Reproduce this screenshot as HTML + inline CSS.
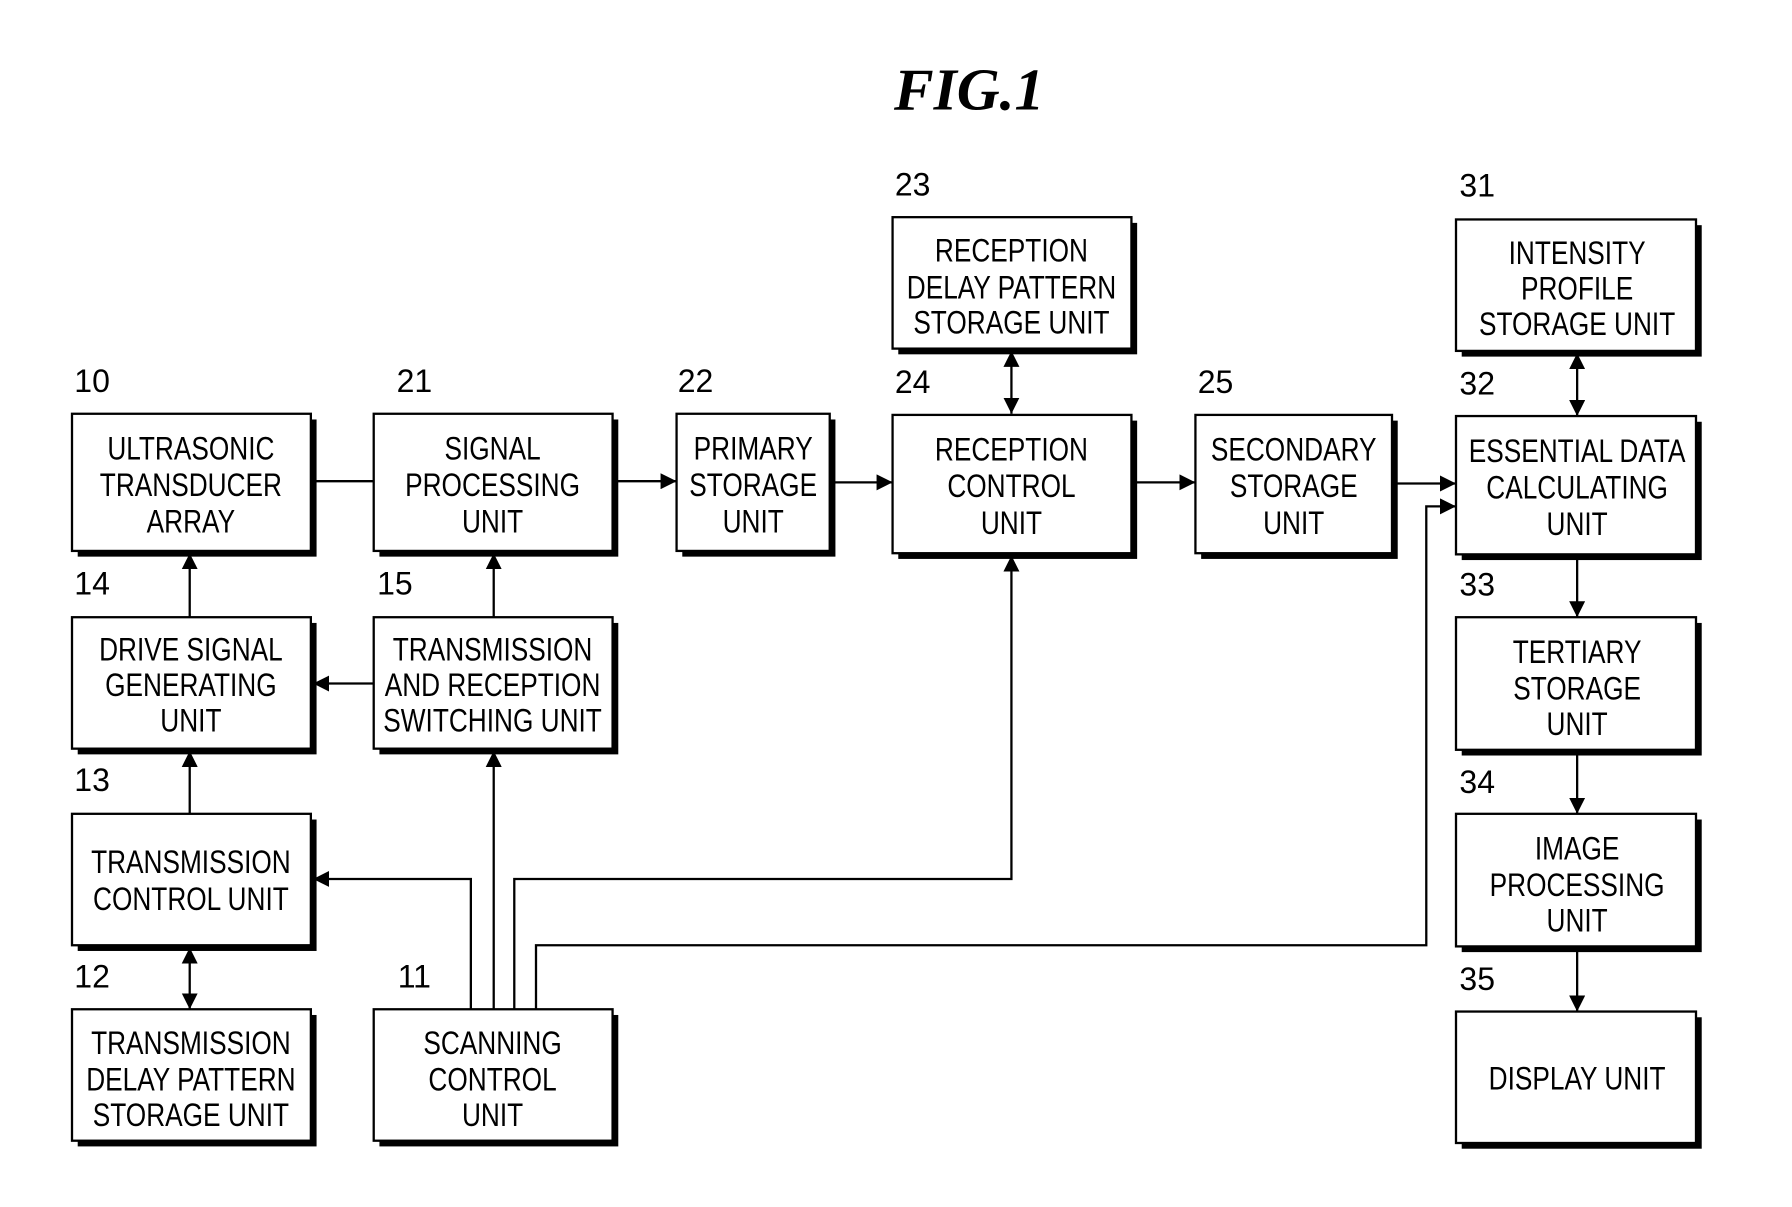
<!DOCTYPE html>
<html><head><meta charset="utf-8"><style>
html,body{margin:0;padding:0;background:#fff;}
svg{display:block;}
text{font-family:"Liberation Sans",sans-serif;font-size:28px;fill:#000;}
</style></head><body>
<svg width="1792" height="1207" viewBox="0 0 1568 1056" preserveAspectRatio="none" xmlns="http://www.w3.org/2000/svg">
<defs>
<marker id="a" viewBox="0 0 10 10" refX="10" refY="5" markerWidth="14" markerHeight="14" markerUnits="userSpaceOnUse" orient="auto-start-reverse"><path d="M0,0 L10,5 L0,10 z" fill="#000"/></marker>
</defs>
<text x="848" y="96" text-anchor="middle" style="font-family:'Liberation Serif',serif;font-style:italic;font-weight:bold;font-size:52px">FIG.1</text>
<g stroke="#000" fill="none" stroke-width="2">
<line x1="272" y1="421" x2="327" y2="421"/>
<line x1="536" y1="421" x2="592" y2="421" marker-end="url(#a)"/>
<line x1="726" y1="422" x2="781" y2="422" marker-end="url(#a)"/>
<line x1="990" y1="422" x2="1046" y2="422" marker-end="url(#a)"/>
<line x1="1218" y1="423" x2="1274" y2="423" marker-end="url(#a)"/>
<line x1="885" y1="307" x2="885" y2="362" marker-start="url(#a)" marker-end="url(#a)"/>
<line x1="1380" y1="309" x2="1380" y2="364" marker-start="url(#a)" marker-end="url(#a)"/>
<line x1="1380" y1="487" x2="1380" y2="540" marker-end="url(#a)"/>
<line x1="1380" y1="658" x2="1380" y2="712" marker-end="url(#a)"/>
<line x1="1380" y1="830" x2="1380" y2="885" marker-end="url(#a)"/>
<line x1="166" y1="540" x2="166" y2="484" marker-end="url(#a)"/>
<line x1="432" y1="540" x2="432" y2="484" marker-end="url(#a)"/>
<line x1="327" y1="598" x2="274" y2="598" marker-end="url(#a)"/>
<line x1="166" y1="712" x2="166" y2="657" marker-end="url(#a)"/>
<line x1="166" y1="829" x2="166" y2="883" marker-start="url(#a)" marker-end="url(#a)"/>
<polyline points="412,883 412,769 274,769" marker-end="url(#a)"/>
<line x1="432" y1="883" x2="432" y2="657" marker-end="url(#a)"/>
<polyline points="450,883 450,769 885,769 885,486" marker-end="url(#a)"/>
<polyline points="469,883 469,827 1248,827 1248,443 1274,443" marker-end="url(#a)"/>
</g>
<g stroke="#000" stroke-width="2" fill="#fff">
<g fill="#000" stroke="none">
<rect x="68" y="367" width="209" height="120"/><rect x="332" y="367" width="209" height="120"/>
<rect x="597" y="367" width="134" height="120"/><rect x="786" y="368" width="209" height="121"/>
<rect x="1051" y="368" width="172" height="121"/><rect x="786" y="195" width="209" height="115"/>
<rect x="1279" y="197" width="210" height="115"/><rect x="1279" y="369" width="210" height="121"/>
<rect x="1279" y="545" width="210" height="116"/><rect x="1279" y="717" width="210" height="116"/>
<rect x="1279" y="890" width="210" height="115"/><rect x="68" y="545" width="209" height="115"/>
<rect x="332" y="545" width="209" height="115"/><rect x="68" y="717" width="209" height="115"/>
<rect x="68" y="888" width="209" height="115"/><rect x="332" y="888" width="209" height="115"/>
</g>
<rect x="63" y="362" width="209" height="120"/><rect x="327" y="362" width="209" height="120"/>
<rect x="592" y="362" width="134" height="120"/><rect x="781" y="363" width="209" height="121"/>
<rect x="1046" y="363" width="172" height="121"/><rect x="781" y="190" width="209" height="115"/>
<rect x="1274" y="192" width="210" height="115"/><rect x="1274" y="364" width="210" height="121"/>
<rect x="1274" y="540" width="210" height="116"/><rect x="1274" y="712" width="210" height="116"/>
<rect x="1274" y="885" width="210" height="115"/><rect x="63" y="540" width="209" height="115"/>
<rect x="327" y="540" width="209" height="115"/><rect x="63" y="712" width="209" height="115"/>
<rect x="63" y="883" width="209" height="115"/><rect x="327" y="883" width="209" height="115"/>
</g>
<g text-anchor="middle" transform="scale(0.82,1)">
<text x="203.7" y="402">ULTRASONIC</text><text x="203.7" y="434">TRANSDUCER</text><text x="203.7" y="466">ARRAY</text>
<text x="525.6" y="402">SIGNAL</text><text x="525.6" y="434">PROCESSING</text><text x="525.6" y="466">UNIT</text>
<text x="803.7" y="402">PRIMARY</text><text x="803.7" y="434">STORAGE</text><text x="803.7" y="466">UNIT</text>
<text x="1079.3" y="403">RECEPTION</text><text x="1079.3" y="435">CONTROL</text><text x="1079.3" y="467">UNIT</text>
<text x="1380.5" y="403">SECONDARY</text><text x="1380.5" y="435">STORAGE</text><text x="1380.5" y="467">UNIT</text>
<text x="1079.3" y="229">RECEPTION</text><text x="1079.3" y="261">DELAY PATTERN</text><text x="1079.3" y="292">STORAGE UNIT</text>
<text x="1682.9" y="231">INTENSITY</text><text x="1682.9" y="262">PROFILE</text><text x="1682.9" y="293">STORAGE UNIT</text>
<text x="1682.9" y="404">ESSENTIAL DATA</text><text x="1682.9" y="436">CALCULATING</text><text x="1682.9" y="468">UNIT</text>
<text x="1682.9" y="580">TERTIARY</text><text x="1682.9" y="612">STORAGE</text><text x="1682.9" y="643">UNIT</text>
<text x="1682.9" y="752">IMAGE</text><text x="1682.9" y="784">PROCESSING</text><text x="1682.9" y="815">UNIT</text>
<text x="1682.9" y="953">DISPLAY UNIT</text>
<text x="203.7" y="578">DRIVE SIGNAL</text><text x="203.7" y="609">GENERATING</text><text x="203.7" y="640">UNIT</text>
<text x="525.6" y="578">TRANSMISSION</text><text x="525.6" y="609">AND RECEPTION</text><text x="525.6" y="640">SWITCHING UNIT</text>
<text x="203.7" y="764">TRANSMISSION</text><text x="203.7" y="796">CONTROL UNIT</text>
<text x="203.7" y="922">TRANSMISSION</text><text x="203.7" y="954">DELAY PATTERN</text><text x="203.7" y="985">STORAGE UNIT</text>
<text x="525.6" y="922">SCANNING</text><text x="525.6" y="954">CONTROL</text><text x="525.6" y="985">UNIT</text>
</g>
<g>
<text x="65" y="343">10</text><text x="347" y="343">21</text><text x="593" y="343">22</text>
<text x="783" y="171">23</text><text x="783" y="344">24</text><text x="1048" y="344">25</text>
<text x="1277" y="172">31</text><text x="1277" y="345">32</text><text x="1277" y="521">33</text>
<text x="1277" y="694">34</text><text x="1277" y="866">35</text>
<text x="65" y="520">14</text><text x="330" y="520">15</text><text x="65" y="692">13</text>
<text x="65" y="864">12</text><text x="348" y="864">11</text>
</g>
</svg>
</body></html>
